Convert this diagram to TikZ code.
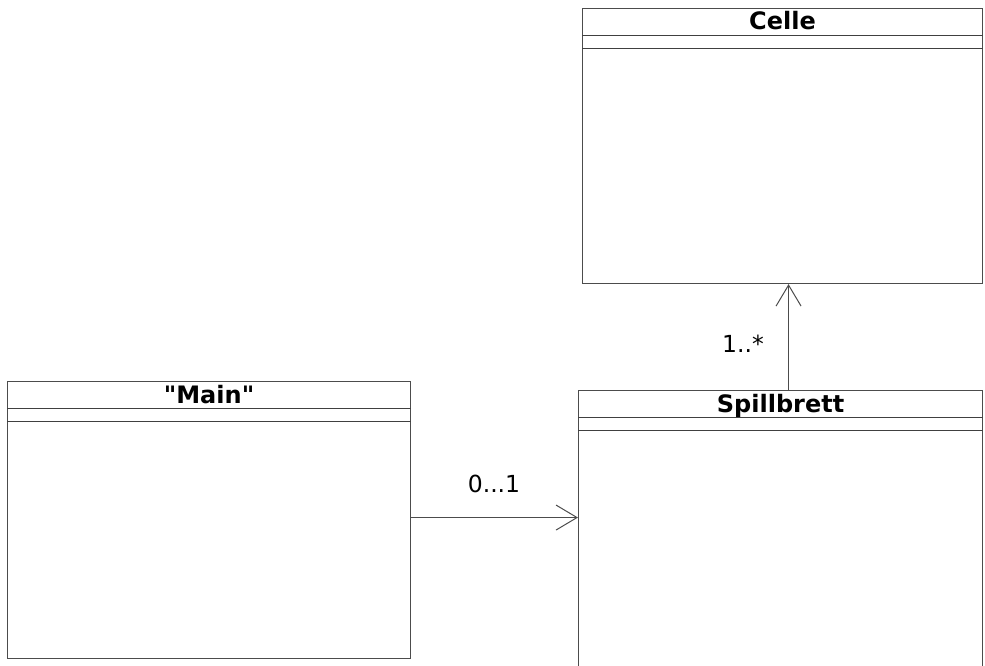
\documentclass[tikz,border=0pt]{standalone}
\usepackage{fontspec}
\setmainfont{DejaVu Sans}
\usetikzlibrary{arrows.meta,calc}

\tikzset{
	classbox/.style={draw=black!70,line width=1.1pt,rectangle,inner sep=0pt,anchor=north west},
	classsep/.style={draw=black!75,line width=1.1pt},
	classname/.style={font=\fontsize{24}{28}\selectfont\bfseries,inner sep=0pt,anchor=base},
	multlabel/.style={font=\fontsize{23.5}{28}\selectfont,inner sep=0pt,anchor=base},
	assoc/.style={draw=black!70,line width=1pt,-{Straight Barb[length=21pt,width=25pt]}}
}

\begin{document}
\begin{tikzpicture}[x=1pt,y=-1pt]
	\useasboundingbox (0,0) rectangle (985,666);
	\foreach \N/\X/\Y/\W/\H/\T in {celle/582/8/400/275/Celle, main/7/381/403/277/\textquotedbl Main\textquotedbl, spill/578/390/404/300/Spillbrett}
	{
		\node[classbox,minimum width=\W pt,minimum height=\H pt] (\N) at (\X,\Y) {};
		\node[classname] (\N-name) at ($(\N.north)+(0,22)$) {\T};
		\draw[classsep] ([yshift=-27.5pt]\N.north west) -- ([yshift=-27.5pt]\N.north east);
		\draw[classsep] ([yshift=-40.5pt]\N.north west) -- ([yshift=-40.5pt]\N.north east);
	}
	\draw[assoc] ([yshift=2.5pt]main.east) -- ([yshift=2.5pt]main.east -| spill.west);
	\draw[assoc] ([xshift=8pt]spill.north) -- ([xshift=8pt]spill.north |- celle.south);
	\node[multlabel] (mainmult) at (494,492) {0...1};
	\node[multlabel] (cellemult) at (743,352) {1..*};
\end{tikzpicture}
\end{document}
